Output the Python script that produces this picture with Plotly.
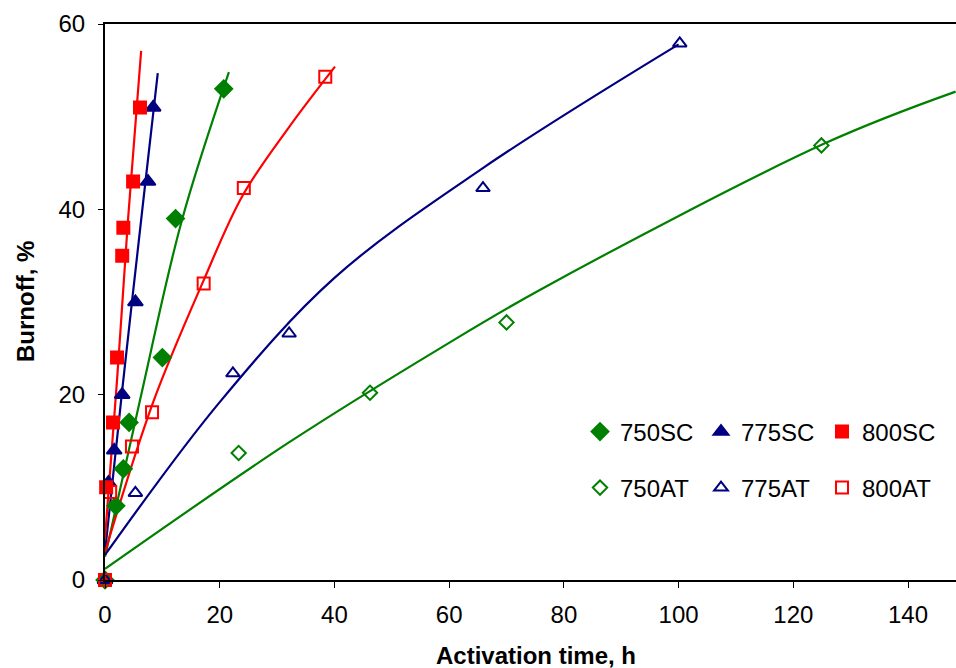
import plotly.graph_objects as go

# ---- data ----
series_names = ["750SC", "775SC", "800SC", "750AT", "775AT", "800AT"]

t_750SC = [0, 1.9, 3.2, 4.2, 10.0, 12.3, 20.7]
b_750SC = [0, 8, 12, 17, 24, 39, 53]

t_775SC = [0, 0.6, 1.6, 3.0, 5.3, 7.5, 8.4]
b_775SC = [0, 10.5, 14, 20, 30, 43, 51]

t_800SC = [0, 0.2, 1.4, 2.1, 3.0, 3.2, 4.9, 6.1]
b_800SC = [0, 10, 17, 24, 35, 38, 43, 51]

t_750AT = [0, 23.3, 46.2, 70.0, 124.9]
b_750AT = [0, 13.7, 20.2, 27.8, 46.9]

t_775AT = [0, 5.3, 22.3, 32.1, 65.9, 100.2]
b_775AT = [0, 9.4, 22.3, 26.6, 42.3, 57.9]

t_800AT = [0, 0.9, 4.7, 8.2, 17.2, 24.2, 38.4]
b_800AT = [0, 9.5, 14.4, 18.1, 32, 42.3, 54.3]

# trendlines, points
trend_t_750SC = [0, 6.1, 13.4, 21.6]
trend_b_750SC = [2.5, 19.4, 38.8, 54.8]
trend_t_775SC = [0, 3.0, 6.6, 9.2]
trend_b_775SC = [3.0, 20.5, 40.5, 54.7]
trend_t_800SC = [0, 2.1, 4.0, 6.3]
trend_b_800SC = [4.5, 21.6, 38.8, 57.1]
trend_t_750AT = [0, 32.2, 58.4, 75.8, 125.8, 148.3]
trend_b_750AT = [1.2, 14.9, 25.0, 31.3, 47.2, 52.7]
trend_t_775AT = [0, 20.0, 40.0, 66.0, 100.0]
trend_b_775AT = [2.7, 19.2, 32.6, 44.5, 57.8]
trend_t_800AT = [0, 8.4, 17.1, 24.0, 32.0, 40.1]
trend_b_800AT = [3.0, 19.2, 32.2, 41.5, 48.8, 55.4]

x_ticks = [0, 20, 40, 60, 80, 100, 120, 140]
y_ticks = [0, 20, 40, 60]

# ---- styles ----
GREEN, BLUE, RED = "#008000", "#000080", "#FF0000"
colors = [GREEN, BLUE, RED, GREEN, BLUE, RED]
symbols = ["diamond", "triangle-up", "square",
           "diamond-open", "triangle-up-open", "square-open"]
sizes = [13, 13, 12, 11, 12, 12]
legends = ["legend", "legend", "legend", "legend2", "legend2", "legend2"]

xs = [t_750SC, t_775SC, t_800SC, t_750AT, t_775AT, t_800AT]
ys = [b_750SC, b_775SC, b_800SC, b_750AT, b_775AT, b_800AT]
txs = [trend_t_750SC, trend_t_775SC, trend_t_800SC, trend_t_750AT, trend_t_775AT, trend_t_800AT]
tys = [trend_b_750SC, trend_b_775SC, trend_b_800SC, trend_b_750AT, trend_b_775AT, trend_b_800AT]

fig = go.Figure()

for tx, ty, c in zip(txs, tys, colors):
    fig.add_trace(go.Scatter(x=tx, y=ty, mode="lines",
                             line=dict(color=c, width=2.2, shape="spline", smoothing=1.0),
                             showlegend=False, hoverinfo="skip"))

for name, x, y, c, s, sz, lg in zip(series_names, xs, ys, colors, symbols, sizes, legends):
    fig.add_trace(go.Scatter(x=x, y=y, mode="markers", name=name,
                             marker=dict(symbol=s, size=sz, color=c,
                                         line=dict(color=c, width=2)),
                             cliponaxis=False, legend=lg))

FONT = "Liberation Sans, Arial, sans-serif"
L, T, B = 105, 24, 88
W, H = 956, 668
pw, ph = W - L, H - T - B

def px_x(p):  # page pixel -> paper
    return (p - L) / pw

def px_y(p):
    return (H - B - p) / ph

fig.update_layout(
    width=W, height=H,
    margin=dict(l=L, r=0, t=T, b=B),
    plot_bgcolor="white", paper_bgcolor="white",
    font=dict(family=FONT, size=24, color="black"),
    xaxis=dict(range=[0, pw / 5.736], tickvals=x_ticks, showgrid=False, zeroline=False,
               showline=True, linecolor="black", linewidth=2, mirror=True,
               ticks="outside", ticklen=6, tickcolor="black", tickwidth=1,
               ticklabelstandoff=6),
    yaxis=dict(range=[0, 60], tickvals=y_ticks, showgrid=False, zeroline=False,
               showline=True, linecolor="black", linewidth=2,
               ticks="outside", ticklen=5, tickcolor="black", tickwidth=1,
               ticklabelstandoff=8),
    legend=dict(orientation="h", x=px_x(580), y=px_y(432), xanchor="left", yanchor="middle",
                entrywidth=76, itemwidth=30, font=dict(size=24), bgcolor="rgba(0,0,0,0)"),
    legend2=dict(orientation="h", x=px_x(580), y=px_y(488), xanchor="left", yanchor="middle",
                 entrywidth=76, itemwidth=30, font=dict(size=24), bgcolor="rgba(0,0,0,0)"),
    annotations=[
        dict(text="<b>Activation time, h</b>", xref="paper", yref="paper",
             x=px_x(536), y=px_y(655), showarrow=False, font=dict(size=24),
             xanchor="center", yanchor="middle"),
        dict(text="<b>Burnoff, %</b>", xref="paper", yref="paper",
             x=px_x(25), y=px_y(302), showarrow=False, font=dict(size=24),
             textangle=-90, xanchor="center", yanchor="middle"),
    ],
)

fig.write_html("out.html", config={"displayModeBar": False},
               post_script="document.body.style.margin='0';document.body.style.overflow='hidden';")
